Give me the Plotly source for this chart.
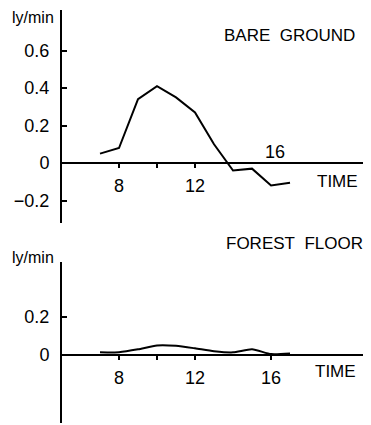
import plotly.graph_objects as go

# ---- data ----
hours = [7, 8, 9, 10, 11, 12, 13, 14, 15, 16, 17]
bare_ground = [0.05, 0.08, 0.34, 0.41, 0.35, 0.27, 0.10, -0.04, -0.03, -0.12, -0.105]
forest_floor = [0.014, 0.015, 0.03, 0.05, 0.048, 0.035, 0.02, 0.014, 0.03, 0.005, 0.008]

top_ytickvals = [0.6, 0.4, 0.2, 0, -0.2]
top_yticktext = ["0.6", "0.4", "0.2", "0", "\u22120.2"]
bot_ytickvals = [0.2, 0]
bot_yticktext = ["0.2", "0"]
top_xtickvals = [8, 10, 12]
top_xticktext = ["8", "", "12"]
bot_xtickvals = [8, 10, 12, 16]
bot_xticktext = ["8", "", "12", "16"]

W, H = 371, 425
def pyf(p):
    return 1 - p / H

XR = [5.0, 20.84]
XD = [62 / W, 363 / W]
TOP_YR = [-0.32, 0.816]
TOP_YD = [pyf(223), pyf(10)]
BOT_YR = [-0.355, 0.486]
BOT_YD = [pyf(423), pyf(262)]

def zero_pos(yr, yd):
    return yd[0] + (0 - yr[0]) / (yr[1] - yr[0]) * (yd[1] - yd[0])

TICKFONT = dict(family="Liberation Sans Narrow, Liberation Sans, Arial", size=18, color="black")
TXTFONT = dict(family="Liberation Sans, Arial", size=16, color="black")

fig = go.Figure()
fig.add_trace(go.Scatter(x=hours, y=bare_ground, mode="lines",
                         line=dict(color="black", width=2), xaxis="x", yaxis="y"))
fig.add_trace(go.Scatter(x=hours, y=forest_floor, mode="lines",
                         line=dict(color="black", width=2, shape="spline", smoothing=0.6),
                         xaxis="x2", yaxis="y2"))

xcommon = dict(range=XR, domain=XD, showgrid=False, zeroline=False, showline=True,
               linecolor="black", linewidth=2, ticks="outside", ticklen=4, tickwidth=1.5,
               tickcolor="black", tickfont=TICKFONT, anchor="free", ticklabelstandoff=2)
ycommon = dict(showgrid=False, zeroline=False, showline=True, linecolor="black", linewidth=2,
               ticks="inside", ticklen=5, tickwidth=1.5, tickcolor="black",
               tickfont=TICKFONT, ticklabelstandoff=7)

fig.update_layout(
    width=W, height=H, margin=dict(l=0, r=0, t=0, b=0),
    paper_bgcolor="white", plot_bgcolor="white", showlegend=False,
    xaxis=dict(**xcommon, tickvals=top_xtickvals, ticktext=top_xticktext,
               position=zero_pos(TOP_YR, TOP_YD)),
    yaxis=dict(**ycommon, range=TOP_YR, domain=TOP_YD, anchor="x",
               tickvals=top_ytickvals, ticktext=top_yticktext),
    xaxis2=dict(**xcommon, tickvals=bot_xtickvals, ticktext=bot_xticktext,
                position=zero_pos(BOT_YR, BOT_YD)),
    yaxis2=dict(**ycommon, range=BOT_YR, domain=BOT_YD, anchor="x2",
                tickvals=bot_ytickvals, ticktext=bot_yticktext),
)

def ann(text, px, py, size=16):
    f = dict(TXTFONT)
    f["size"] = size
    fig.add_annotation(text=text, x=px / W, y=pyf(py), xref="paper", yref="paper",
                       showarrow=False, font=f, xanchor="center", yanchor="middle")

ann("ly/min", 33, 17, 16)
ann("BARE\u00a0\u00a0GROUND", 289.5, 35, 17)
ann("TIME", 337, 181, 17)
ann("FOREST\u00a0\u00a0FLOOR", 294, 243, 17)
ann("ly/min", 33, 257, 16)
ann("TIME", 335, 371, 17)
fig.add_annotation(text="16", x=16.2, y=0.059, xref="x", yref="y", showarrow=False,
                   font=TICKFONT, xanchor="center", yanchor="middle")

fig.write_html("out.html")
